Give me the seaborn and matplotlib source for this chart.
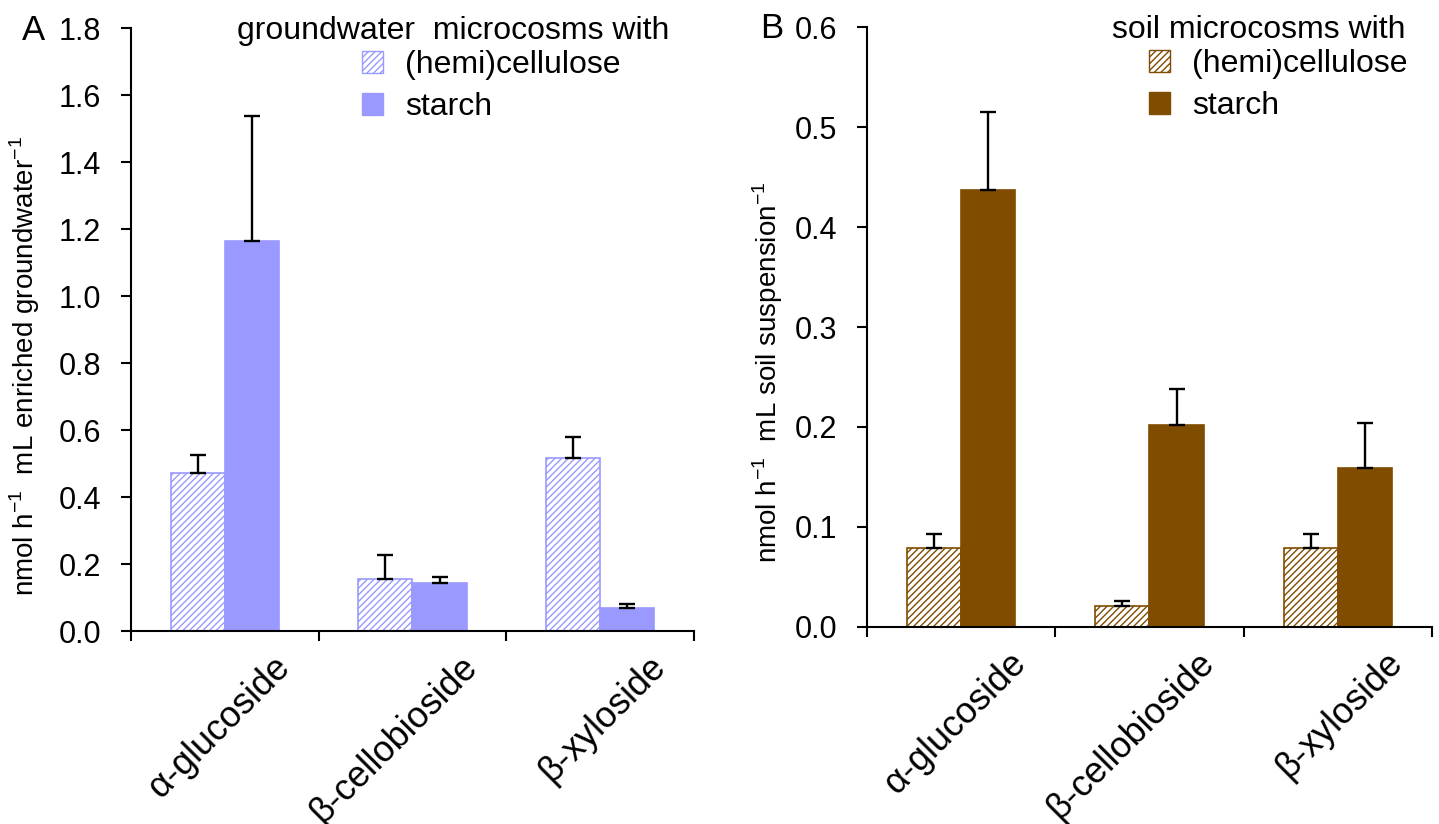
import numpy as np
import pandas as pd
import matplotlib
matplotlib.use("Agg")
import matplotlib.pyplot as plt
import matplotlib.transforms as mtransforms
from matplotlib.patches import Patch
import seaborn as sns

# data
substrates = ["α-glucoside", "β-cellobioside", "β-xyloside"]
treatments = ["(hemi)cellulose", "starch"]

gw_hemi = [0.472, 0.155, 0.516]
gw_hemi_err = [0.054, 0.073, 0.064]
gw_starch = [1.164, 0.143, 0.069]
gw_starch_err = [0.374, 0.018, 0.012]

soil_hemi = [0.079, 0.021, 0.079]
soil_hemi_err = [0.014, 0.005, 0.014]
soil_starch = [0.437, 0.202, 0.159]
soil_starch_err = [0.078, 0.036, 0.045]

gw_ticks = np.round(np.arange(0, 1.81, 0.2), 1)
soil_ticks = np.round(np.arange(0, 0.61, 0.1), 1)

PURPLE = "#9999FF"
BROWN = "#7F4C00"

sns.set_theme(style="ticks")
plt.rcParams["font.family"] = ["Liberation Sans", "DejaVu Sans"]
plt.rcParams["mathtext.fontset"] = "custom"
plt.rcParams["mathtext.rm"] = "Liberation Sans"
plt.rcParams["hatch.linewidth"] = 1.0
for k in ["text.color", "axes.labelcolor", "xtick.color", "ytick.color", "axes.edgecolor"]:
    plt.rcParams[k] = "black"

FS = 22      # y tick labels
XFS = 26     # category labels
LFS = 23     # legend
YLFS = 20    # axis titles


def long_table(hemi, starch):
    return pd.DataFrame({
        "Substrate": substrates * 2,
        "Treatment": [treatments[0]] * 3 + [treatments[1]] * 3,
        "Activity": list(hemi) + list(starch),
    })


def draw_panel(ax, hemi, hemi_err, starch, starch_err, color, ticks, ylab, title, leg_x, title_x):
    df = long_table(hemi, starch)
    sns.barplot(data=df, x="Substrate", y="Activity", hue="Treatment",
                palette=[color, color], width=0.576, errorbar=None,
                legend=False, ax=ax, saturation=1)

    # hatched bars for (hemi)cellulose, one-sided error bars on top
    for cont, errs, hatched in zip(ax.containers, [hemi_err, starch_err], [True, False]):
        for bar, e in zip(cont, errs):
            if hatched:
                bar.set_facecolor("white")
                bar.set_hatch("/////")
            bar.set_edgecolor(color)
            bar.set_linewidth(1.2)
            cx = bar.get_x() + bar.get_width() / 2
            ax.errorbar(cx, bar.get_height(), yerr=[[0], [e]], fmt="none",
                        ecolor="black", elinewidth=1.7, capsize=5.5, capthick=1.7, zorder=5)

    ax.set_xlim(-0.5, 2.5)
    ax.set_ylim(0, ticks[-1])
    ax.set_yticks(ticks)
    ax.set_yticklabels([f"{t:.1f}" for t in ticks], fontsize=FS)
    ax.set_xticks(range(3))
    ax.set_xticklabels(substrates, fontsize=XFS, rotation=45, ha="right",
                       rotation_mode="anchor", va="center")
    ax.set_xticks([-0.5, 0.5, 1.5, 2.5], minor=True)
    ax.tick_params(axis="x", which="major", length=0, pad=22)
    ax.tick_params(axis="x", which="minor", length=7.5, width=1.5, direction="out", color="black")
    ax.tick_params(axis="y", length=7.5, width=1.5, direction="out", pad=14, color="black")
    offset = mtransforms.ScaledTranslation(0.6, 0, ax.figure.dpi_scale_trans)
    for lab in ax.get_xticklabels():
        lab.set_transform(lab.get_transform() + offset)

    sns.despine(ax=ax)
    for s in ["left", "bottom"]:
        ax.spines[s].set_linewidth(1.5)
        ax.spines[s].set_color("black")

    ax.set_xlabel("")
    ax.set_ylabel(ylab, fontsize=YLFS)

    ax.text(title_x, 0.995, title, transform=ax.transAxes, fontsize=LFS,
            ha="left", va="center")
    handles = [Patch(facecolor="white", edgecolor=color, hatch="/////", linewidth=1.0),
               Patch(facecolor=color, edgecolor=color)]
    ax.legend(handles, treatments, loc="upper left", bbox_to_anchor=(leg_x, 0.963),
              frameon=False, fontsize=LFS, borderpad=0, borderaxespad=0,
              handlelength=0.66, handleheight=0.66, handletextpad=0.7, labelspacing=0.38)


fig = plt.figure(figsize=(14.39, 8.24), dpi=100)
axA = fig.add_axes([0.091, 0.2342, 0.3913, 0.7318])
axB = fig.add_axes([0.6025, 0.2391, 0.3926, 0.7281])

draw_panel(axA, gw_hemi, gw_hemi_err, gw_starch, gw_starch_err, PURPLE, gw_ticks,
           r"nmol h$^{\mathregular{-1}}$  mL enriched groundwater$^{\mathregular{-1}}$",
           "groundwater  microcosms with", 0.41, 0.188)
draw_panel(axB, soil_hemi, soil_hemi_err, soil_starch, soil_starch_err, BROWN, soil_ticks,
           r"nmol h$^{\mathregular{-1}}$  mL soil suspension$^{\mathregular{-1}}$",
           "soil microcosms with", 0.499, 0.434)

axA.yaxis.set_label_coords(-0.158, 0.44)
axB.yaxis.set_label_coords(-0.145, 0.425)

fig.text(0.023, 0.963, "A", fontsize=FS + 3, ha="center", va="center")
fig.text(0.536, 0.965, "B", fontsize=FS + 3, ha="center", va="center")

fig.savefig("out.png", dpi=100)
